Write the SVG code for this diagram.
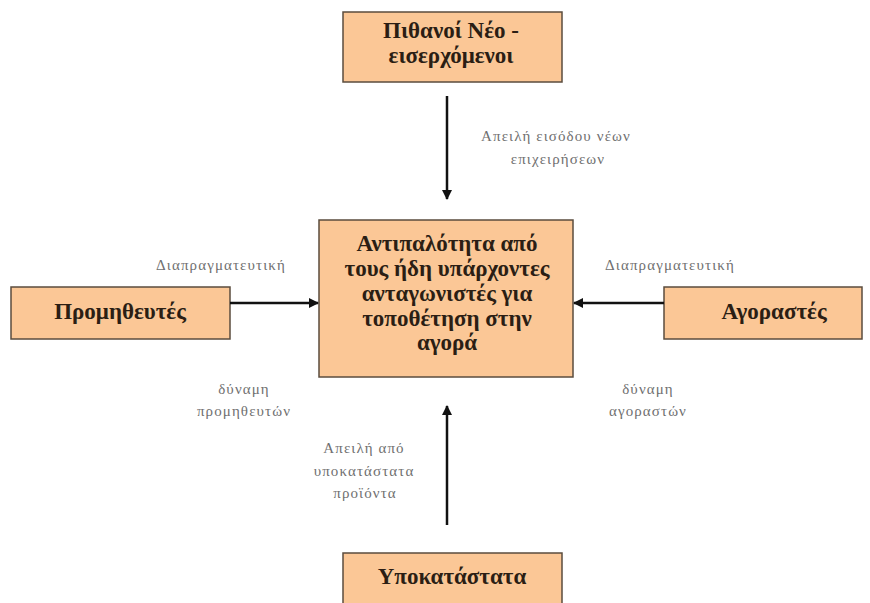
<svg xmlns="http://www.w3.org/2000/svg" width="870" height="603" viewBox="0 0 870 603">
<defs>
<marker id="ah" viewBox="0 0 10 10" refX="9" refY="5" markerWidth="4" markerHeight="4" orient="auto"><path d="M0,0 L10,5 L0,10 z" fill="#111"/></marker>
<style>
.box{fill:#fbc796;stroke:#5b4c3e;stroke-width:1.5}
.t{font-family:'Liberation Serif',serif;font-weight:bold;font-size:23px;fill:#2b1e14;text-anchor:middle}
.l{font-family:'Liberation Serif',serif;font-size:15px;letter-spacing:1.1px;fill:#707070;text-anchor:middle}
.c{stroke:#111;stroke-width:2.5;fill:none;marker-end:url(#ah)}
</style>
</defs>
<rect width="870" height="603" fill="#fff"/>
<g id="top"><rect class="box" x="343" y="12" width="219" height="70"/>
<text class="t" x="451" y="38">Πιθανοί Νέο -</text>
<text class="t" x="451" y="63">εισερχόμενοι</text></g>
<g id="center"><rect class="box" x="319" y="220" width="254" height="157"/>
<text class="t" x="447" y="251">Αντιπαλότητα από</text>
<text class="t" x="447" y="276">τους ήδη υπάρχοντες</text>
<text class="t" x="447" y="301">ανταγωνιστές για</text>
<text class="t" x="447" y="326">τοποθέτηση στην</text>
<text class="t" x="447" y="350">αγορά</text></g>
<g id="left"><rect class="box" x="11" y="287" width="219" height="52"/>
<text class="t" x="120" y="319">Προμηθευτές</text></g>
<g id="right"><rect class="box" x="664" y="287" width="198" height="52"/>
<text class="t" x="774" y="319">Αγοραστές</text></g>
<g id="bottom"><rect class="box" x="343" y="553" width="219" height="60"/>
<text class="t" x="452" y="584">Υποκατάστατα</text></g>
<g id="connectors">
<line class="c" x1="447" y1="96" x2="447" y2="199"/>
<line class="c" x1="230" y1="303" x2="318" y2="303"/>
<line class="c" x1="664" y1="303" x2="574" y2="303"/>
<line class="c" x1="447" y1="525" x2="447" y2="406"/>
</g>
<g id="labels">
<text class="l" x="556" y="141">Απειλή εισόδου νέων</text>
<text class="l" x="558" y="164">επιχειρήσεων</text>
<text class="l" x="221" y="270">Διαπραγματευτική</text>
<text class="l" x="670" y="270">Διαπραγματευτική</text>
<text class="l" x="244" y="394">δύναμη</text>
<text class="l" x="244" y="416">προμηθευτών</text>
<text class="l" x="648" y="394">δύναμη</text>
<text class="l" x="648" y="416">αγοραστών</text>
<text class="l" x="364" y="453">Απειλή από</text>
<text class="l" x="364" y="476">υποκατάστατα</text>
<text class="l" x="365" y="498">προϊόντα</text>
</g>
</svg>
